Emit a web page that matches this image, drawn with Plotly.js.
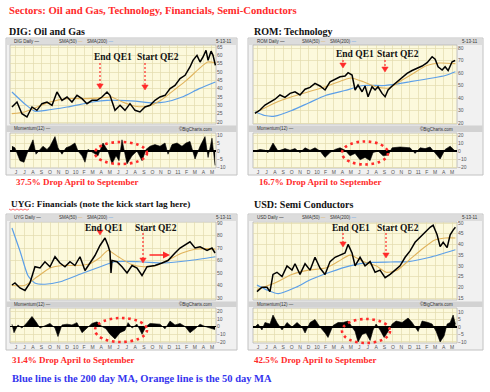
<!DOCTYPE html>
<html><head><meta charset="utf-8">
<script src="https://cdn.plot.ly/plotly-3.0.1.min.js"></script>
<style>html,body{margin:0;padding:0;background:#fff;}#c{width:490px;height:392px;}</style>
</head><body><div id="c"></div>
<script>
// ---------- DATA (x in months, 0 = June 2009) ----------
const monthLabels = ['J','J','A','S','O','N','D','10','F','M','A','M','J','J','A','S','O','N','D','11','F','M','A','M'];
const monthTicks = monthLabels.map((_, i) => i);

// DIG: Oil and Gas
const digT = [-0.47,0.12,0.70,1.29,1.88,2.46,3.05,3.64,4.23,4.81,5.40,5.99,6.57,7.16,7.75,8.33,8.92,9.51,10.09,10.68,11.03,11.62,12.21,12.79,13.38,13.97,14.55,15.14,15.73,16.31,16.90,17.49,18.08,18.66,19.25,19.84,20.42,20.77,21.24,21.60,21.95,22.30,22.54,22.89,23.12,23.40];
const digPrice = [29,32,25,23,29,27,31,32,30,38,33,35,32,36,34,31,33,33,35,38,36,27,30,27,31,27,26,29,30,33,35,36,40,42,46,48,53,57,60,56,59,63,57,62.5,60,54];
const digS50T = [-0.47,1,2.5,4,6,8,10,11.2,12.5,14,15.5,17,18.5,20,21.5,22.5,23.4];
const digS50 = [25,26,29,32,34,34,34.5,35,32,29.5,29.5,33,39,45,52,56,55.5];
const digS200T = [-0.47,1,2.2,3.5,6,9,10.7,12,14,16,17.5,19.5,21.5,23.4];
const digS200 = [38,31,26.5,27,29,32,33,33,32.5,31.5,32,35,40,44];
const digMT = [-0.47,-0.12,0.47,0.94,1.41,2.0,2.35,2.82,3.17,3.64,3.99,4.58,4.93,5.40,5.87,6.34,6.92,7.28,7.75,8.10,8.45,9.04,9.62,10.21,10.80,11.27,11.74,12.09,12.44,13.03,13.62,14.20,14.79,15.26,15.73,16.31,16.90,17.49,17.84,18.31,18.90,19.48,19.95,20.42,21.01,21.60,22.18,22.54,23.00,23.36];
const digMom = [3,2,-6,-7,0,7,-2,1,3,1,3,9,2,-2,2,3,5,0,-3,-7,1,-1,-3,5,0,-8,-3,-6,7,-8,-3,0,-6,1,3,4,3,5,-2,4,5,3,5,6,-5,3,9,-4,8,-9];

// ROM: Technology
const romT = [-0.36,0.24,0.83,1.42,2.02,2.61,3.20,3.80,4.39,4.98,5.58,6.17,6.76,7.35,7.95,8.54,9.13,9.73,10.32,10.68,11.15,11.51,11.86,12.34,12.69,13.05,13.52,13.88,14.23,14.71,15.07,15.42,15.90,16.49,17.08,17.67,18.27,18.86,19.45,20.05,20.64,21.00,21.35,21.83,22.18,22.54,23.01,23.37];
const romPrice = [27.7,30.4,34.4,37,39,42.4,40.5,43.7,45,42.4,47,48.5,51.7,49.6,46.4,53,55,57,57.6,60.3,58.4,46.4,50.4,45,49.6,41,49,46.4,49,43.7,41,46.4,49.6,53,56.5,59.7,62,63.7,65.6,68.3,73,71,65,62.4,65,62,69,70];
const romS50T = [-0.36,2,4,6,8,10,11,12.5,14,15.5,17,18.5,20,21.5,23.4];
const romS50 = [28,36,41,45,49,54,56,53,49,48,54,60,66,68,67.5];
const romS200T = [-0.36,0.8,2,4,6,8,10.3,12.5,15,18,22.2,23.4];
const romS200 = [29,26,25.5,30,36,42,46,50,50,53,58,61];
const romMT = [-0.36,0.24,0.83,1.19,1.78,2.37,3.20,3.80,4.39,4.98,5.58,6.17,6.76,7.35,7.95,8.54,9.13,9.73,10.32,10.91,11.51,12.10,12.69,13.29,13.64,14.23,14.83,15.42,15.90,16.84,18.03,18.62,19.22,19.81,20.40,21.00,21.59,22.18,22.78,23.37];
const romMom = [0,2,1,-2,10,0,3,1,3,-2,4,1,4,0,-8,-2,2,4,1,-6,-3,-11,-8,-12,-2,0,-6,-5,4,5,4,-3,4,3,5,-2,-10,2,6,0];

// UYG: Financials
const uygT = [-0.47,-0.12,0.47,1.06,1.64,2.23,2.82,3.40,3.99,4.58,5.16,5.75,6.34,6.92,7.51,8.10,8.69,9.27,9.86,10.45,10.80,11.03,11.15,11.27,11.85,12.44,13.03,13.62,14.20,14.79,15.38,16.31,17.14,17.84,18.66,19.25,20.42,21.01,21.60,22.42,23.00,23.36];
const uygPrice = [40.4,42,38,36,42,55,54,59,55,63,58,55,59,56,63,52,58,64,72,78,72,67,50,60,59,55,50,56,54,48,55,56,58,60,66,70,75,70,71,68,70,66];
const uygS50T = [-0.47,1,2.5,4,5.5,7,8.5,9.8,10.8,12,13.5,15,16.5,18,19.5,21,22.5,23.4];
const uygS50 = [40,40,47,54,56,56,57,62,68,63,57,55,56,61,66,69,69.5,69];
const uygS200T = [-0.47,0.5,1.4,2.2,3.4,5.2,7.5,9.9,11.6,14.5,17.4,20.4,23.4];
const uygS200 = [86,67,48,42,41,43,49,55,59,59,58,60,63];
const uygMT = [-0.47,-0.23,0.23,0.70,1.29,1.88,2.35,2.82,3.40,3.99,4.58,4.93,5.40,5.99,6.57,7.16,7.75,8.33,8.92,9.51,10.09,10.56,11.03,11.62,12.21,12.79,13.15,13.62,14.20,14.79,15.26,15.73,16.90,17.49,18.08,18.66,19.25,19.84,20.42,21.01,21.60,22.18,22.77,23.36];
const uygMom = [3,-8,2,-2,5,13,6,-2,1,4,-2,-13,2,3,2,5,-8,-2,4,6,0,-3,-10,-16,-8,-5,5,-2,3,-10,0,4,3,-3,7,2,4,0,-8,-3,3,0,-2,-4];

// USD: Semi Conductors
const usdT = [-0.12,0.47,1.07,1.42,1.78,2.25,2.85,3.44,4.03,4.39,4.98,5.58,6.17,6.76,7.35,7.95,8.54,9.13,9.73,10.32,10.68,11.15,11.51,12.10,12.69,13.29,13.88,14.47,15.07,15.66,16.25,16.84,17.44,18.03,18.62,19.22,19.81,20.40,20.76,21.23,21.59,21.95,22.42,22.78,23.13,23.40];
const usdPrice = [18,20,20,18,26,27,25,30,28,31,26,31,28,34,29,26,32,34,35,36,40,36,30,34,30,32,27,28,24.5,26,28,30,34,37,41,43.5,46,48,49,44.5,39,41,38.5,44.5,46.7,48];
const usdS50T = [-0.12,2,4,6,8,9.5,10.9,12.5,14,15.2,16.5,18,19.5,20.9,22.2,23.4];
const usdS50 = [19,22,26,28,29,32,35,32,30,27,28,33,38,42,43,43];
const usdS200T = [-0.12,1.2,2.4,4.5,6.2,8.5,10.9,13.3,15.7,17.8,20.4,23.4];
const usdS200 = [21,18.5,17,20,23.5,27,30,31.6,31.8,32,34,37.5];
const usdMT = [-0.36,0,0.47,0.83,1.42,1.78,2.25,2.85,3.44,4.03,4.63,5.22,5.58,6.17,6.76,7.35,7.95,8.30,8.90,9.49,10.08,10.68,11.15,11.51,11.86,12.34,12.81,13.29,13.64,14.00,14.47,14.95,15.42,15.90,16.37,17.08,17.79,18.27,18.98,19.45,20.17,20.64,21.12,21.59,22.06,22.42,22.78,23.13,23.40];
const usdMom = [0,2,-2,3,2,8,3,-2,3,0,3,0,-4,3,5,0,-4,-7,1,3,3,4,0,-3,-10,-5,-4,-9,-2,2,-2,-7,-3,2,4,3,6,3,-3,4,3,2,-3,-10,-6,2,3,8,2];

const titles = ['DIG: Oil and Gas','ROM: Technology','UYG: Financials (note the kick start lag here)','USD: Semi Conductors'];
const drops = ['37.5% Drop April to September','16.7% Drop April to September','31.4% Drop April to September','42.5% Drop April to September'];
const tickers = ['DIG','ROM','UYG','USD'];

// ---------- LAYOUT GEOMETRY ----------
const W = 490, H = 392;
const PX = x => x / W, PY = y => 1 - y / H;
const RED = '#ff2a2a', ORANGE = '#e0b35c', BLUE = '#5c9fe8';

const panels = [
  {t:digT,p:digPrice,s50t:digS50T,s50:digS50,s200t:digS200T,s200:digS200,mt:digMT,m:digMom,
   x0:10,x1:216,pt:45,pb:124,mt0:133,mb:168,fx0:6,fx1:237,ft:38,fb:175,xr:[-0.70,23.47],
   yr:[18.8,66.2],yt:[20,25,30,35,40,45,50,55,60,65],mr:[-10.6,11.25],mtk:[-10,-5,0,5,10],
   title:[7,32],ts:10,drop:[14,182],qe:[[92,57],[135,57]],arrows:[[100,63,89],[145,63,90]],ell:[121,153,26,11]},
  {t:romT,p:romPrice,s50t:romS50T,s50:romS50,s200t:romS200T,s200:romS200,mt:romMT,m:romMom,
   x0:253,x1:457,pt:45,pb:124,mt0:133,mb:168,fx0:248,fx1:483,ft:38,fb:175,xr:[-0.59,23.59],
   yr:[19.2,82.4],yt:[20,30,40,50,60,70,80],mr:[-21.25,22.5],mtk:[-20,-10,0,10,20],
   title:[252,32],ts:10,drop:[257,182],qe:[[334,54],[375,54]],arrows:[[343,60,68],[385,60,72]],ell:[365,153,23,11.5]},
  {t:uygT,p:uygPrice,s50t:uygS50T,s50:uygS50,s200t:uygS200T,s200:uygS200,mt:uygMT,m:uygMom,
   x0:10,x1:216,pt:222,pb:300,mt0:308,mb:343,fx0:6,fx1:237,ft:214,fb:350,xr:[-0.70,23.47],
   yr:[28.4,90.8],yt:[30,40,50,60,70,80,90],mr:[-21.3,23.9],mtk:[-20,-10,0,10,20],
   title:[9,204],ts:9.2,drop:[10,360],qe:[[83,228],[133,228]],arrows:[[100,232,235],[143,233,263]],ell:[121,330,26,12]},
  {t:usdT,p:usdPrice,s50t:usdS50T,s50:usdS50,s200t:usdS200T,s200:usdS200,mt:usdMT,m:usdMom,
   x0:253,x1:457,pt:222,pb:300,mt0:308,mb:343,fx0:248,fx1:483,ft:214,fb:350,xr:[-0.59,23.59],
   yr:[14.07,50.47],yt:[15,20,25,30,35,40,45,50],mr:[-10.7,12.7],mtk:[-10,-5,0,5,10],
   title:[252,204],ts:10,drop:[252,360],qe:[[330,228],[375,228]],arrows:[[343,233,247],[386,233,258]],ell:[366,331,24,12]}
];

const data = [], shapes = [], annotations = [];
const layout = {
  width: W, height: H, margin: {l:0,r:0,t:0,b:0},
  paper_bgcolor: '#ffffff', plot_bgcolor: 'rgba(0,0,0,0)', showlegend: false,
  shapes, annotations
};

const serif = 'Liberation Serif, Times New Roman, serif';
const sans = 'Liberation Sans, Arial, sans-serif';
function txt(x, y, text, size, color, anchor) {
  return {xref:'paper', yref:'paper', x:PX(x), y:PY(y), text, showarrow:false,
    xanchor: anchor || 'left', yanchor:'middle', font:{family:serif, size, color}};
}
function tiny(x, y, text, anchor) {
  return {xref:'paper', yref:'paper', x:PX(x), y:PY(y), text, showarrow:false,
    xanchor: anchor || 'left', yanchor:'middle', font:{family:sans, size:4.5, color:'#333'}};
}
function rect(x0, y0, x1, y1, fill, line, lw) {
  return {type:'rect', xref:'paper', yref:'paper', layer:'below', x0:PX(x0), x1:PX(x1), y0:PY(y1), y1:PY(y0),
    fillcolor: fill, line:{color: line || fill, width: lw === undefined ? 0 : lw}};
}

annotations.push(txt(7, 10, '<b>Sectors: Oil and Gas, Technology, Financials, Semi-Conductors</b>', 10.7, RED));
annotations.push(txt(10, 378, '<b>Blue line is the 200 day MA, Orange line is the 50 day MA</b>', 10.5, '#3434ee'));

panels.forEach((p, i) => {
  const n = i + 1, m = i + 5;
  const xa = 'x' + n, ya = 'y' + n, xm = 'x' + m, ym = 'y' + m;
  shapes.push(rect(p.fx0, p.ft, p.fx1, p.fb, '#f1f1f1', '#c2c2c2', 1));
  shapes.push(rect(p.fx0 + 0.5, p.ft + 0.5, p.fx1 - 0.5, p.ft + 7, '#dcdcdc'));
  shapes.push(rect(p.fx0 + 0.5, p.pb + 1.5, p.fx1 - 0.5, p.mt0 - 1, '#d2d2d2'));
  shapes.push(rect(p.x0, p.pt, p.x1, p.pb, '#fcf9dc', '#b5b5b5', 0.8));
  shapes.push(rect(p.x0, p.mt0, p.x1, p.mb, '#fcf9dc', '#b5b5b5', 0.8));

  data.push({type:'scatter', mode:'lines', x:p.s200t, y:p.s200, xaxis:xa, yaxis:ya,
    line:{color:BLUE, width:1.2, shape:'spline', smoothing:0.6}, hoverinfo:'skip'});
  data.push({type:'scatter', mode:'lines', x:p.s50t, y:p.s50, xaxis:xa, yaxis:ya,
    line:{color:ORANGE, width:1.1, shape:'spline', smoothing:0.6}, hoverinfo:'skip'});
  data.push({type:'scatter', mode:'lines', x:p.t, y:p.p, xaxis:xa, yaxis:ya,
    line:{color:'#000', width:1.5}, hoverinfo:'skip'});
  data.push({type:'scatter', mode:'lines', x:p.mt, y:p.m, xaxis:xm, yaxis:ym, fill:'tozeroy',
    fillcolor:'#000', line:{color:'#000', width:0.6}, hoverinfo:'skip'});

  const gx = '#e2dbae';
  const baseX = {range:p.xr, tickvals:monthTicks, ticktext:monthLabels, showgrid:true, gridcolor:gx, gridwidth:0.7,
    zeroline:false, showline:false, ticks:'', fixedrange:true, domain:[PX(p.x0), PX(p.x1)]};
  layout['xaxis' + n] = Object.assign({}, baseX, {anchor:ya, showticklabels:false});
  layout['xaxis' + m] = Object.assign({}, baseX, {anchor:ym, showticklabels:true,
    tickfont:{family:sans, size:5, color:'#555'}, tickangle:0});
  layout['yaxis' + n] = {domain:[PY(p.pb), PY(p.pt)], range:p.yr, anchor:xa, side:'right', tickvals:p.yt,
    showgrid:true, gridcolor:gx, gridwidth:0.7, zeroline:false, showline:false, ticks:'',
    tickfont:{family:sans, size:5, color:'#555'}, fixedrange:true};
  layout['yaxis' + m] = {domain:[PY(p.mb), PY(p.mt0)], range:p.mr, anchor:xm, side:'right', tickvals:p.mtk,
    showgrid:true, gridcolor:gx, gridwidth:0.7, zeroline:true, zerolinecolor:'#000', zerolinewidth:1.2,
    showline:false, ticks:'', tickfont:{family:sans, size:5, color:'#555'}, fixedrange:true};

  const hy = p.ft + 3.6;
  annotations.push(tiny(p.x0 + 2, hy, tickers[i] + ' Daily <span style="color:#000">—</span>'));
  annotations.push(tiny(p.x0 + 47, hy, 'SMA(50) <span style="color:' + ORANGE + '">—</span>'));
  annotations.push(tiny(p.x0 + 75, hy, 'SMA(200) <span style="color:' + BLUE + '">—</span>'));
  annotations.push(tiny(p.fx1 - 3, hy, '5-13-11', 'right'));
  const sy = (p.pb + 1.5 + p.mt0 - 1) / 2;
  annotations.push(tiny(p.x0 + 2, sy, 'Momentum(12) —'));
  annotations.push(tiny(p.x1 - 2, sy, '©BigCharts.com', 'right'));

  annotations.push(txt(p.title[0], p.title[1], '<b>' + titles[i] + '</b>', p.ts, '#111'));
  annotations.push(txt(p.drop[0], p.drop[1], '<b>' + drops[i] + '</b>', 9, RED));
  annotations.push(txt(p.qe[0][0], p.qe[0][1], '<b>End QE1</b>', 9.5, '#111'));
  annotations.push(txt(p.qe[1][0], p.qe[1][1], '<b>Start QE2</b>', 9.5, '#111'));

  p.arrows.forEach(a => {
    const [ax, y0, y1] = a;
    if (y1 - y0 > 6) {
      shapes.push({type:'line', xref:'paper', yref:'paper', x0:PX(ax), x1:PX(ax), y0:PY(y0), y1:PY(y1 - 4),
        line:{color:RED, width:1.2, dash:'2px,2px'}, layer:'above'});
    }
    shapes.push({type:'path', xref:'paper', yref:'paper', layer:'above',
      path:`M${PX(ax-3.2)},${PY(y1-5)} L${PX(ax+3.2)},${PY(y1-5)} L${PX(ax)},${PY(y1)} Z`,
      fillcolor:RED, line:{color:RED, width:0.5}});
  });

  const [cx, cy, rx, ry] = p.ell;
  shapes.push({type:'circle', xref:'paper', yref:'paper', layer:'above',
    x0:PX(cx - rx), x1:PX(cx + rx), y0:PY(cy + ry), y1:PY(cy - ry),
    line:{color:RED, width:2.6, dash:'2.6px,3.6px'}});
});

annotations.push({xref:'paper', yref:'paper', x:PX(170), y:PY(255), ax:-22, ay:0, text:'', showarrow:true,
  arrowcolor:RED, arrowwidth:1.4, arrowhead:2, arrowsize:1});
let sq = `M${PX(9)},${PY(209)}`;
for (let k = 1; k <= 10; k++) sq += ` L${PX(9 + k * 2)},${PY(209 + (k % 2 ? 1.2 : 0))}`;
shapes.push({type:'path', xref:'paper', yref:'paper', layer:'above', path:sq, line:{color:RED, width:0.7}});

Plotly.newPlot('c', data, layout, {staticPlot:true, displayModeBar:false});
</script>
</body></html>
